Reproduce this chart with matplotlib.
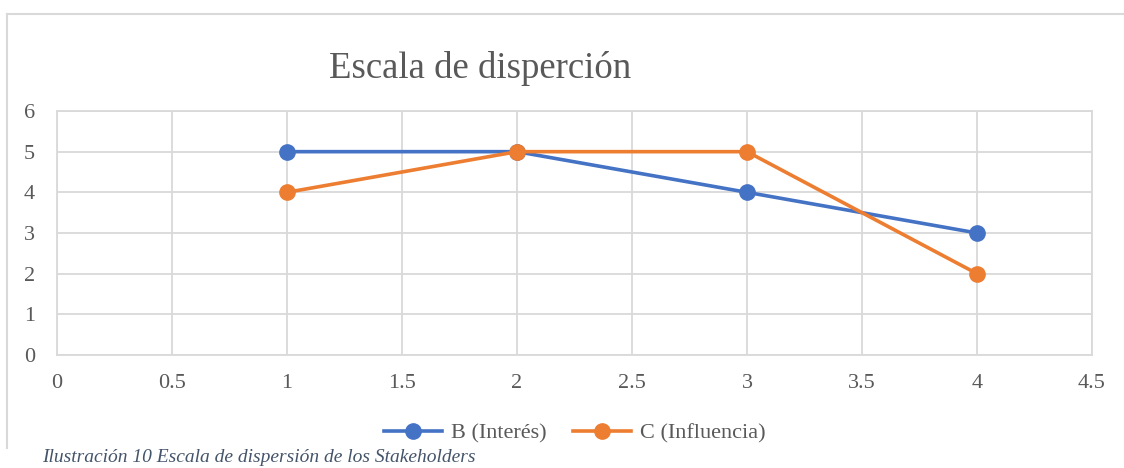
import matplotlib
matplotlib.use('Agg')
import matplotlib.pyplot as plt
from matplotlib.lines import Line2D

plt.rcParams['font.family'] = ['Liberation Serif', 'DejaVu Serif']

# data
x_vals = [1, 2, 3, 4]
interes = [5, 5, 4, 3]
influencia = [4, 5, 5, 2]
x_ticks = [0, 0.5, 1, 1.5, 2, 2.5, 3, 3.5, 4, 4.5]
x_labels = ['0', '0.5', '1', '1.5', '2', '2.5', '3', '3.5', '4', '4.5']
y_ticks = [0, 1, 2, 3, 4, 5, 6]

W, H = 1124, 468
fig = plt.figure(figsize=(W / 100, H / 100), dpi=100)
ax = fig.add_axes([57 / W, 1 - 355 / H, (1092 - 57) / W, (355 - 111) / H])

blue = '#4472C4'
orange = '#ED7D31'
grid_c = '#D9D9D9'
text_c = '#595959'

ax.plot(x_vals, interes, color=blue, lw=2.6, marker='o', ms=11, label='B (Interés)', zorder=3)
ax.plot(x_vals, influencia, color=orange, lw=2.6, marker='o', ms=11, label='C (Influencia)', zorder=3)

ax.set_xlim(0, 4.5)
ax.set_ylim(0, 6)
ax.set_xticks(x_ticks)
ax.set_xticklabels(x_labels)
ax.set_yticks(y_ticks)
ax.grid(True, color=grid_c, lw=1.3)
ax.set_axisbelow(True)
for s in ax.spines.values():
    s.set_color(grid_c)
    s.set_linewidth(1.3)
ax.tick_params(length=0, labelsize=16, colors=text_c)
ax.tick_params(axis='x', pad=14)
ax.tick_params(axis='y', pad=16)

fig.text(480 / W, 1 - 68 / H, 'Escala de disperción', fontsize=26.5, color=text_c,
         ha='center', va='center')

leg = fig.legend(loc='center', bbox_to_anchor=(575 / W, 1 - 433 / H), ncol=2, frameon=False,
                 fontsize=16, handlelength=2.6, columnspacing=1.2, handletextpad=0.4)
for t in leg.get_texts():
    t.set_color(text_c)

# chart border (left and top visible)
fig.add_artist(Line2D([7 / W, 7 / W], [1 - 14 / H, 1 - 448 / H], color=grid_c, lw=1.5))
fig.add_artist(Line2D([7 / W, 1.0], [1 - 14 / H, 1 - 14 / H], color=grid_c, lw=1.5))

fig.text(42 / W, 1 - 466 / H, 'Ilustración 10 Escala de dispersión de los Stakeholders',
         fontsize=14, style='italic', color='#44546A', ha='left', va='bottom')

fig.savefig('out.png', dpi=100)
